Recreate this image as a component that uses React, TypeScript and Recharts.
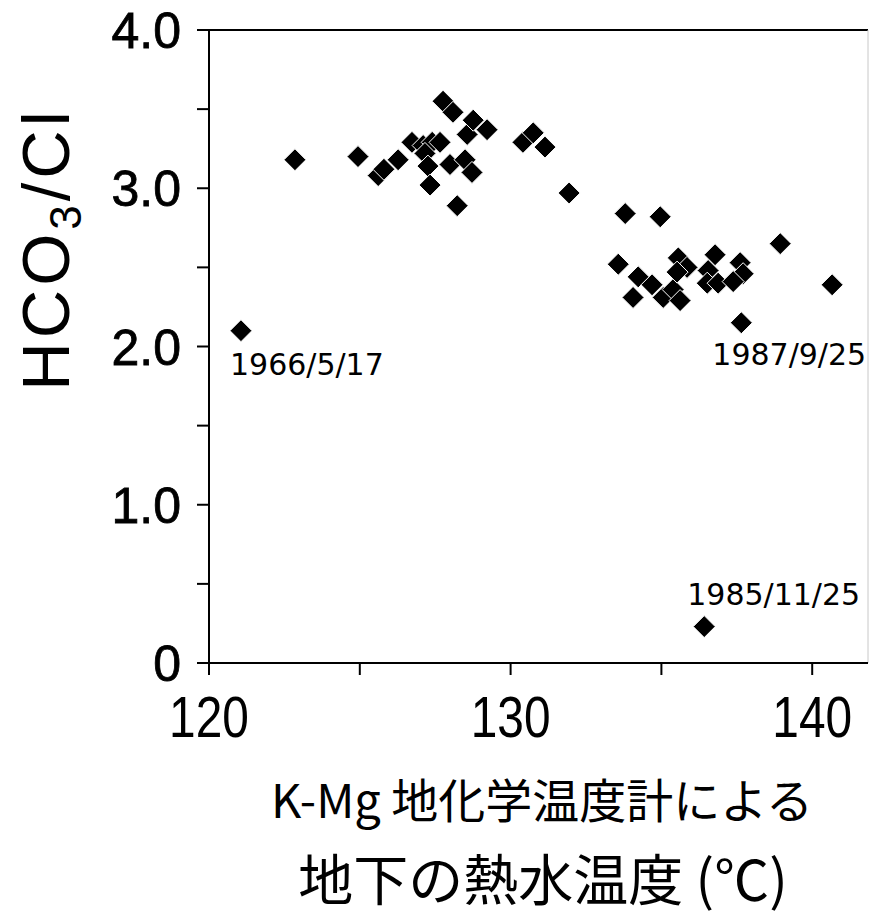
import React from 'react';
import { ScatterChart, Scatter, XAxis, YAxis, ReferenceLine } from 'recharts';

// K-Mg geothermometer temperature (°C)
const temperatures = [
  121.06, 122.85, 124.94, 125.61, 125.8, 126.27, 126.73, 127.1, 127.4, 127.66,
  127.16, 127.26, 127.33, 127.76, 128.09, 127.99, 128.23, 128.49, 128.72, 128.56,
  128.76, 129.22, 130.41, 130.75, 131.14, 131.94, 133.8, 134.96, 133.57, 134.23,
  134.69, 134.06, 135.06, 135.39, 135.62, 135.56, 135.85, 135.52, 136.78, 136.55,
  136.52, 136.88, 137.61, 137.71, 137.38, 137.65, 138.94, 140.66, 136.42,
];

// HCO3/Cl ratio
const ratios = [
  2.1, 3.18, 3.2, 3.08, 3.12, 3.18, 3.29, 3.27, 3.29, 3.29,
  3.22, 3.14, 3.02, 3.55, 3.48, 3.15, 2.89, 3.18, 3.1, 3.34,
  3.43, 3.37, 3.29, 3.35, 3.26, 2.97, 2.84, 2.82, 2.52, 2.44,
  2.39, 2.31, 2.31, 2.36, 2.29, 2.56, 2.5, 2.47, 2.58, 2.48,
  2.4, 2.4, 2.53, 2.46, 2.41, 2.15, 2.65, 2.39, 0.23,
];

// annotated sample dates (index into the arrays above)
const noteIndices = [0, 45, 48];
const noteTexts = ['1966/5/17', '1987/9/25', '1985/11/25'];

const xTicks = [120, 125, 130, 135, 140];
const xTickLabels = ['120', '', '130', '', '140'];
const yTicks = [0, 0.5, 1, 1.5, 2, 2.5, 3, 3.5, 4];
const yTickLabels = ['0', '', '1.0', '', '2.0', '', '3.0', '', '4.0'];

const X_MAX = 141.85;

const points = temperatures.map((t, i) => ({ x: t, y: ratios[i] }));
const notes = noteIndices.map((idx, k) => ({ x: temperatures[idx], y: ratios[idx], text: noteTexts[k] }));

const NOTE_OFFSET: Record<string, [number, number]> = {
  '1966/5/17': [-11, 44],
  '1987/9/25': [-29, 42],
  '1985/11/25': [-17, -22],
};

const Diamond = (props: any) => {
  const { cx, cy } = props;
  const r = 11;
  return (
    <polygon
      points={`${cx},${cy - r} ${cx + r},${cy} ${cx},${cy + r} ${cx - r},${cy}`}
      fill="#000"
      stroke="#fff"
      strokeWidth={1}
    />
  );
};

const NoteShape = (props: any) => {
  const { cx, cy, payload } = props;
  const off = NOTE_OFFSET[payload.text] || [0, 0];
  return (
    <text
      x={cx + off[0]}
      y={cy + off[1]}
      fontFamily="DejaVu Sans"
      fontSize={30}
      fill="#000"
      textAnchor="start"
    >
      {payload.text}
    </text>
  );
};

const XTick = (props: any) => {
  const { x, y, payload } = props;
  const i = xTicks.indexOf(payload.value);
  const label = i >= 0 ? xTickLabels[i] : '';
  return (
    <text
      transform={`translate(${x}, ${y}) scale(0.84, 1)`}
      x={0}
      y={0}
      dy="0.71em"
      textAnchor="middle"
      fontFamily="Liberation Sans"
      fontSize={57}
      fill="#000"
    >
      {label}
    </text>
  );
};

const YTick = (props: any) => {
  const { x, y, payload } = props;
  const i = yTicks.indexOf(payload.value);
  const label = i >= 0 ? yTickLabels[i] : '';
  return (
    <text
      x={x}
      y={y}
      dy="0.36em"
      textAnchor="end"
      fontFamily="Liberation Sans"
      fontSize={50}
      fill="#000"
      stroke="#000"
      strokeWidth={0.8}
    >
      {label}
    </text>
  );
};

const YLabel = () => (
  <text
    transform="translate(69, 249) rotate(-90)"
    textAnchor="middle"
    fontFamily="Liberation Sans"
    fontSize={67}
    letterSpacing={4}
    fill="#000"
  >
    HCO
    <tspan fontSize={44} dy={12}>3</tspan>
    <tspan dy={-12}>/Cl</tspan>
  </text>
);

const XLabel = () => (
  <g>
    <text x={542} y={818} textAnchor="middle" fontFamily="Noto Sans CJK JP" fontSize={47} fill="#000">
      K-Mg 地化学温度計による
    </text>
    <text x={543} y={900} textAnchor="middle" fontFamily="Noto Sans CJK JP" fontSize={55} fill="#000">
      地下の熱水温度 (℃)
    </text>
  </g>
);

export default function App() {
  return (
    <div style={{ position: 'absolute', left: 0, top: 0, background: '#fff' }}>
      <ScatterChart width={870} height={916} margin={{ top: 30, right: 2, bottom: 0, left: 0 }}>
        <XAxis
          type="number"
          dataKey="x"
          domain={[120, X_MAX]}
          allowDataOverflow
          ticks={xTicks}
          interval={0}
          height={253}
          tickSize={12}
          tickMargin={22}
          axisLine={{ stroke: '#000', strokeWidth: 2 }}
          tickLine={{ stroke: '#000', strokeWidth: 2 }}
          tick={<XTick />}
          label={{ content: () => <XLabel /> }}
        />
        <YAxis
          type="number"
          dataKey="y"
          domain={[0, 4]}
          ticks={yTicks}
          interval={0}
          width={209}
          tickSize={12}
          tickMargin={16}
          axisLine={{ stroke: '#000', strokeWidth: 2 }}
          tickLine={{ stroke: '#000', strokeWidth: 2 }}
          tick={<YTick />}
          label={{ content: () => <YLabel /> }}
        />
        <ReferenceLine y={4} stroke="#000" strokeWidth={2} />
        <ReferenceLine x={X_MAX} stroke="#c8c8c8" strokeWidth={1} />
        <Scatter data={points} shape={<Diamond />} isAnimationActive={false} />
        <Scatter data={notes} shape={<NoteShape />} isAnimationActive={false} />
      </ScatterChart>
    </div>
  );
}
